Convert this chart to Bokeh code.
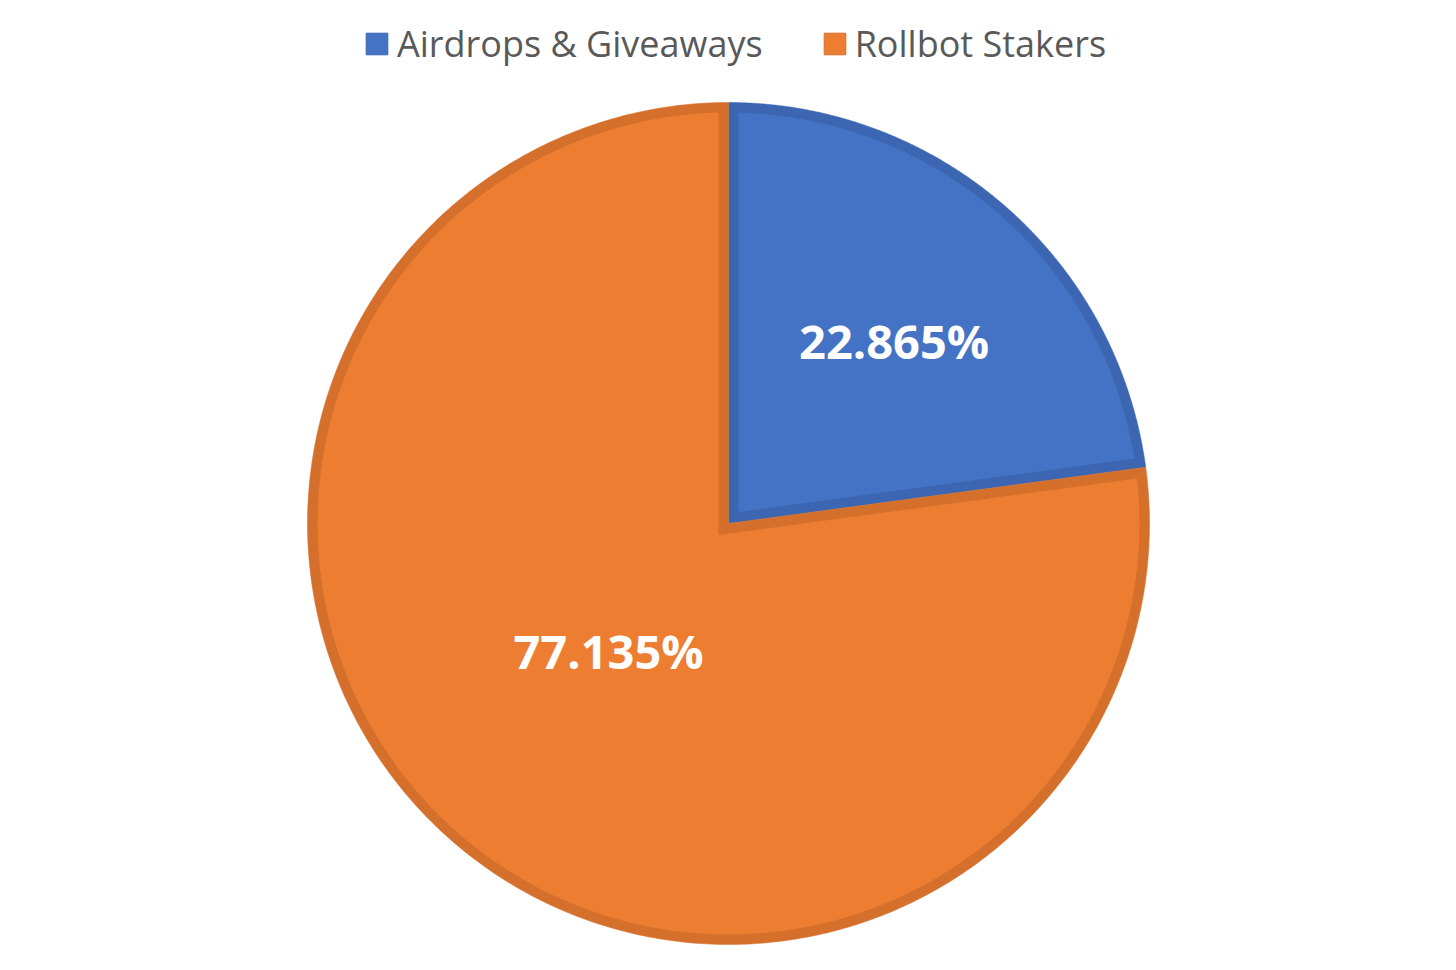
import numpy as np
from bokeh.plotting import figure
from bokeh.models import Range1d, Legend, LegendItem, ColumnDataSource
from bokeh.core.properties import value
from bokeh.embed import file_html
from bokeh.resources import INLINE

# ---- data ----
categories = ["Airdrops & Giveaways", "Rollbot Stakers"]
shares = [22.865, 77.135]
labels = ["22.865%", "77.135%"]
fill_colors = ["#4472C4", "#ED7D31"]
edge_colors = ["#3C66B2", "#D46F2C"]

# ---- layout ----
W, H = 1440, 954
CX, CY, R, BW = 728, 431, 421, 9.5
LABEL_FRAC = [0.586, 0.415]
LABEL_ANGLE_SHIFT = [-1.0, -2.2]

fractions = np.array(shares) / sum(shares)
ends = 90 - 360 * np.cumsum(fractions)
starts = ends + 360 * fractions


def arc(r, a0, a1, n=400):
    a = np.radians(np.linspace(a0, a1, n))
    return CX + r * np.cos(a), CY + r * np.sin(a)


oxs, oys, ixs, iys, lx, ly = [], [], [], [], [], []
for i, (a0, a1) in enumerate(zip(starts, ends)):
    x, y = arc(R, a0, a1)
    oxs.append(np.concatenate([[CX], x]).tolist())
    oys.append(np.concatenate([[CY], y]).tolist())
    theta = a0 - a1
    mid = (a0 + a1) / 2
    d = BW / np.sin(np.radians(theta / 2))
    vx = CX + d * np.cos(np.radians(mid))
    vy = CY + d * np.sin(np.radians(mid))
    da = np.degrees(np.arcsin(BW / (R - BW)))
    x, y = arc(R - BW, a0 - da, a1 + da)
    ixs.append(np.concatenate([[vx], x]).tolist())
    iys.append(np.concatenate([[vy], y]).tolist())
    lr = LABEL_FRAC[i] * R
    la = np.radians(mid + LABEL_ANGLE_SHIFT[i])
    lx.append(CX + lr * np.cos(la))
    ly.append(CY + lr * np.sin(la))

p = figure(width=W, height=H, output_backend="svg", toolbar_location=None,
           x_range=Range1d(0, W), y_range=Range1d(0, H), min_border=0)
p.axis.visible = False
p.grid.visible = False
p.outline_line_color = None

outer_src = ColumnDataSource(dict(xs=oxs, ys=oys, c=edge_colors))
inner_src = ColumnDataSource(dict(xs=ixs, ys=iys, f=fill_colors, c=edge_colors, cat=categories))
p.patches("xs", "ys", source=outer_src, fill_color="c", line_color="c", line_width=0.5)
inner = p.patches("xs", "ys", source=inner_src, fill_color="f", line_color="c", line_width=1)

lab_src = ColumnDataSource(dict(x=lx, y=ly, t=labels))
p.text("x", "y", text="t", source=lab_src, text_font=value("Open Sans"),
       text_font_style="bold", text_font_size="47px", text_color="white",
       text_align="center", text_baseline="alphabetic")

items = [LegendItem(label=c, renderers=[inner], index=i) for i, c in enumerate(categories)]
legend = Legend(items=items, orientation="horizontal", location=(363, 886),
                label_text_font="Open Sans", label_text_font_size="36px",
                label_text_color="#595959", glyph_width=27, glyph_height=27,
                label_standoff=7, spacing=58, padding=0, margin=0,
                border_line_color=None, background_fill_alpha=0)
p.add_layout(legend)

open("out.html", "w").write(file_html(p, INLINE))
